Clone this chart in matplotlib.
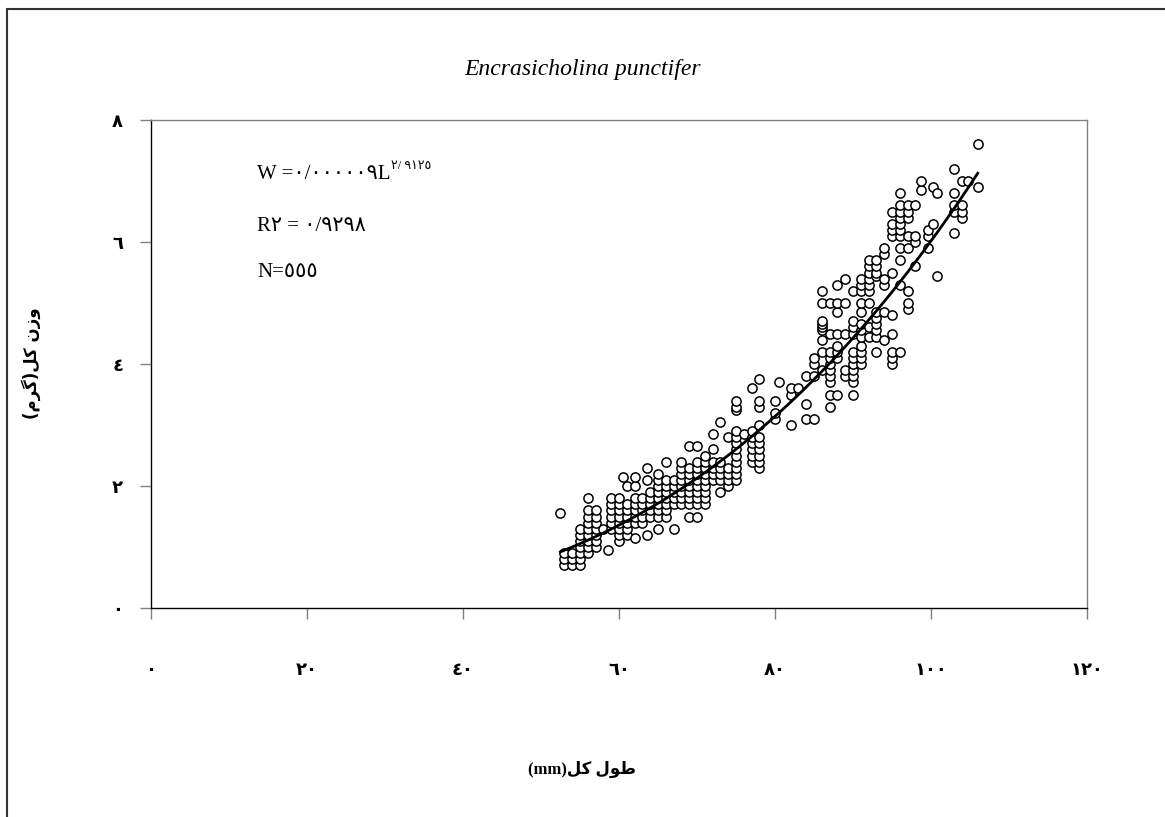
import matplotlib
matplotlib.use("Agg")
import matplotlib.pyplot as plt
from matplotlib.patches import Rectangle
import numpy as np

# total length (mm) -> observed total weights (g), read column by column
COLUMNS = {
    52.5: [1.55],
    53: [0.7, 0.8, 0.9],
    54: [0.7, 0.8, 0.9],
    55: [0.7, 0.8, 0.9, 1.0, 1.1, 1.2, 1.3],
    56: [0.9, 1.0, 1.1, 1.2, 1.3, 1.4, 1.5, 1.6, 1.8],
    57: [1.0, 1.1, 1.2, 1.3, 1.4, 1.5, 1.6],
    58: [1.3],
    58.6: [0.95],
    59: [1.3, 1.4, 1.5, 1.6, 1.7, 1.8],
    60: [1.1, 1.2, 1.3, 1.4, 1.5, 1.6, 1.7, 1.8],
    60.5: [2.15],
    61: [1.2, 1.3, 1.4, 1.5, 1.6, 1.7, 2.0],
    62: [1.15, 1.4, 1.5, 1.6, 1.7, 1.8, 2.0, 2.15],
    63: [1.4, 1.5, 1.6, 1.7, 1.8],
    63.6: [1.2, 2.1, 2.3],
    64: [1.5, 1.6, 1.7, 1.8, 1.9],
    65: [1.3, 1.5, 1.6, 1.7, 1.8, 1.9, 2.0, 2.1, 2.2],
    66: [1.5, 1.6, 1.7, 1.8, 1.9, 2.0, 2.1, 2.4],
    67: [1.3, 1.7, 1.8, 1.9, 2.0, 2.1],
    68: [1.7, 1.8, 1.9, 2.0, 2.1, 2.2, 2.3, 2.4],
    69: [1.5, 1.7, 1.8, 1.9, 2.0, 2.1, 2.2, 2.3, 2.65],
    70: [1.5, 1.7, 1.8, 1.9, 2.0, 2.1, 2.2, 2.3, 2.4, 2.65],
    71: [1.7, 1.8, 1.9, 2.0, 2.1, 2.2, 2.3, 2.4, 2.5],
    72: [2.1, 2.2, 2.3, 2.4, 2.6, 2.85],
    73: [1.9, 2.1, 2.2, 2.3, 2.4, 3.05],
    74: [2.0, 2.1, 2.2, 2.3, 2.8],
    75: [2.1, 2.2, 2.3, 2.4, 2.5, 2.6, 2.7, 2.8, 2.9, 3.25, 3.3, 3.4],
    76: [2.85],
    77: [2.4, 2.5, 2.6, 2.7, 2.8, 2.9, 3.6],
    78: [2.3, 2.4, 2.5, 2.6, 2.7, 2.8, 3.0, 3.3, 3.4, 3.75],
    80: [3.1, 3.2, 3.4],
    80.5: [3.7],
    82: [3.0, 3.5, 3.6],
    83: [3.6],
    84: [3.1, 3.35, 3.8],
    85: [3.1, 3.8, 4.0, 4.1],
    86: [3.9, 4.2, 4.4, 4.55, 4.6, 4.65, 4.7, 5.0, 5.2],
    87: [3.3, 3.5, 3.7, 3.8, 3.9, 4.0, 4.1, 4.2, 4.5, 5.0],
    88: [3.5, 4.1, 4.2, 4.3, 4.5, 4.85, 5.0, 5.3],
    89: [3.8, 3.9, 4.5, 5.0, 5.4],
    90: [3.5, 3.7, 3.8, 3.9, 4.0, 4.1, 4.2, 4.5, 4.6, 4.7, 5.2],
    91: [4.0, 4.1, 4.2, 4.3, 4.45, 4.55, 4.65, 4.85, 5.0, 5.2, 5.3, 5.4],
    92: [4.45, 4.6, 5.0, 5.2, 5.3, 5.4, 5.5, 5.6, 5.7],
    93: [4.2, 4.45, 4.55, 4.65, 4.75, 4.85, 5.45, 5.5, 5.6, 5.7],
    94: [4.4, 4.85, 5.3, 5.4, 5.8, 5.9],
    95: [4.0, 4.1, 4.2, 4.5, 4.8, 5.5, 6.1, 6.2, 6.3, 6.5],
    96: [4.2, 5.3, 5.7, 5.9, 6.1, 6.2, 6.3, 6.4, 6.5, 6.6, 6.8],
    97: [4.9, 5.0, 5.2, 5.9, 6.1, 6.4, 6.5, 6.6],
    98: [5.6, 6.0, 6.1, 6.6],
    98.7: [6.85, 7.0],
    99.6: [5.9, 6.1, 6.2],
    100.3: [6.3, 6.9],
    100.8: [5.45, 6.8],
    103: [6.15, 6.5, 6.6, 6.8, 7.2],
    104: [6.4, 6.5, 6.6, 7.0],
    104.8: [7.0],
    106: [6.9, 7.6],
}

# power-law fit shown on the chart: W = a * L^b
FIT_A = 0.000009
FIT_B = 2.9125

X_TICKS = [0, 20, 40, 60, 80, 100, 120]
X_LABELS = ["٠", "٢٠", "٤٠", "٦٠", "٨٠", "١٠٠", "١٢٠"]
Y_TICKS = [0, 2, 4, 6, 8]
Y_LABELS = ["٠", "٢", "٤", "٦", "٨"]

TITLE = "Encrasicholina punctifer"
# Arabic-script labels in visual order using presentation forms
XLABEL = "(mm)" + "\uFEDE\uFEDB" + " " + "\uFEDD\uFEEE\uFEC3"          # طول کل(mm)
YLABEL = "(" + "\uFEE1\uFEAE\uFB94" + ")" + "\uFEDE\uFEDB" + " " + "\uFEE5\uFEAF\uFEED"  # وزن کل(گرم)
EQ_MAIN = "W =٠/٠٠٠٠٠٩L"
EQ_SUP = "٢/ ٩١٢٥"
R2_TEXT = "R٢ = ٠/٩٢٩٨"
N_TEXT = "N=٥٥٥"

SERIF = ["Liberation Serif", "DejaVu Sans"]
ARAB = ["DejaVu Sans"]

lengths = np.array([x for x, ws in COLUMNS.items() for _ in ws], dtype=float)
weights = np.array([w for ws in COLUMNS.values() for w in ws], dtype=float)

fig = plt.figure(figsize=(11.65, 8.17), dpi=100)
ax = fig.add_axes([0.1296, 0.2558, 0.8034, 0.5973])

ax.scatter(lengths, weights, s=44, facecolors="white", edgecolors="black",
           linewidths=1.1, zorder=3)
xs = np.linspace(lengths.min(), lengths.max(), 200)
ax.plot(xs, FIT_A * xs ** FIT_B, color="black", lw=2.0, zorder=4)

ax.set_xlim(0, 120)
ax.set_ylim(0, 8)
ax.set_xticks(X_TICKS)
ax.set_xticklabels(X_LABELS, family=ARAB, fontweight="bold", fontsize=13)
ax.set_yticks(Y_TICKS)
ax.set_yticklabels(Y_LABELS, family=ARAB, fontweight="bold", fontsize=13)
ax.tick_params(axis="x", direction="out", length=8, width=1, color="#808080", pad=30)
ax.tick_params(axis="y", direction="out", length=8, width=1, color="#808080", pad=12)

for s in ("top", "right"):
    ax.spines[s].set_color("#808080")
    ax.spines[s].set_linewidth(1.0)
for s in ("left", "bottom"):
    ax.spines[s].set_color("black")
    ax.spines[s].set_linewidth(1.0)

# annotations
t1 = ax.text(13.6, 7.1, EQ_MAIN, family=SERIF, fontsize=15, va="center", ha="left")
ax.annotate(EQ_SUP, xy=(1.0, 0.95), xycoords=t1, family=SERIF, fontsize=9,
            va="center", ha="left")
ax.text(13.6, 6.25, R2_TEXT, family=SERIF, fontsize=15, va="center", ha="left")
ax.text(13.6, 5.5, N_TEXT, family=SERIF, fontsize=15, va="center", ha="left")

fig.text(0.5, 0.915, TITLE, family="Liberation Serif", style="italic",
         fontsize=17, ha="center", va="center")
fig.text(0.5, 0.058, XLABEL, family=SERIF, fontweight="bold", fontsize=12,
         ha="center", va="center")
fig.text(0.027, 0.555, YLABEL, family=ARAB, fontweight="bold", fontsize=12,
         rotation=90, ha="center", va="center")

# chart frame (only left and top edges fall inside the image)
fig.patches.append(Rectangle((0.006, -0.1), 1.2, 1.089, transform=fig.transFigure,
                             fill=False, edgecolor="#333333", lw=1.5))

fig.savefig("out.png", dpi=100)
